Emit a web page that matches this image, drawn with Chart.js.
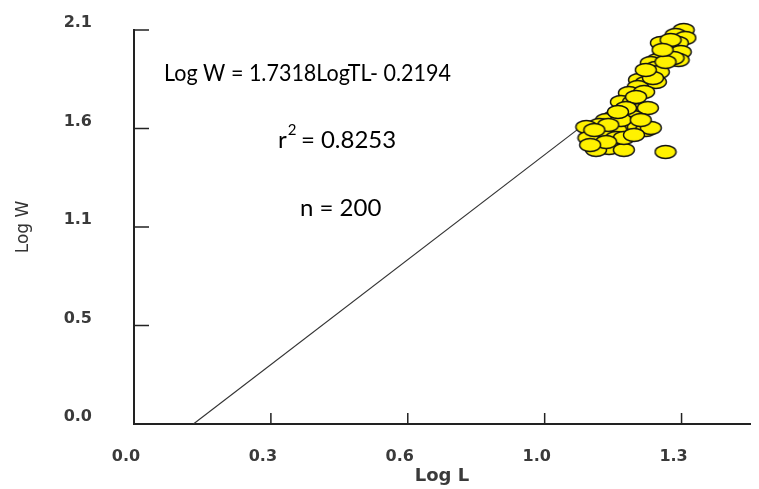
<!DOCTYPE html>
<html>
<head>
<meta charset="utf-8">
<script src="https://cdn.jsdelivr.net/npm/chart.js@4.4.1/dist/chart.umd.min.js"></script>
<style>
    html, body { margin: 0; padding: 0; background: #fff; }
    #wrap { width: 759px; height: 489px; }
</style>
</head>
<body>
<div id="wrap"><canvas id="lwChart" width="759" height="489"></canvas></div>
<script>
// log length / log weight pairs
var logL = [1.305, 1.286, 1.309, 1.291, 1.267, 1.251, 1.298, 1.293, 1.258, 1.243,
            1.227, 1.239, 1.222, 1.246, 1.199, 1.215, 1.239, 1.196, 1.175, 1.156,
            1.185, 1.199, 1.220, 1.173, 1.185, 1.140, 1.121, 1.105, 1.074, 1.140,
            1.173, 1.196, 1.215, 1.227, 1.145, 1.114, 1.090, 1.114, 1.145, 1.102,
            1.128, 1.163, 1.262, 1.079, 1.097, 1.274, 1.281, 1.262, 1.232, 1.211,
            1.192, 1.168, 1.156, 1.126, 1.093, 1.203, 1.163, 1.121, 1.083, 1.187,
            1.255, 1.215, 1.149];
var logW = [2.100, 2.074, 2.058, 2.031, 2.020, 2.031, 1.983, 1.940, 1.967, 1.940,
            1.924, 1.898, 1.871, 1.876, 1.834, 1.818, 1.823, 1.796, 1.764, 1.716,
            1.716, 1.674, 1.684, 1.647, 1.636, 1.636, 1.620, 1.594, 1.583, 1.578,
            1.604, 1.583, 1.567, 1.578, 1.567, 1.557, 1.530, 1.541, 1.525, 1.498,
            1.471, 1.461, 1.450, 1.525, 1.461, 2.047, 1.951, 1.930, 1.844, 1.770,
            1.743, 1.684, 1.620, 1.594, 1.567, 1.620, 1.525, 1.503, 1.487, 1.541,
            1.994, 1.887, 1.663];

// end points of the fitted line
var fitL = [0.141, 1.062];
var fitW = [0.0, 1.585];

var xTicks = [0, 0.325, 0.65, 0.975, 1.3];
var xTickLabels = ['0.0', '0.3', '0.6', '1.0', '1.3'];
var yTicks = [0, 0.525, 1.05, 1.575, 2.1];
var yTickLabels = ['0.0', '0.5', '1.1', '1.6', '2.1'];

var eqText = 'Log W = 1.7318LogTL- 0.2194';
var r2Value = '0.8253';
var nText = 'n = 200';

function makeDot() {
    var c = document.createElement('canvas');
    c.width = 24;
    c.height = 16;
    var g = c.getContext('2d');
    g.beginPath();
    g.ellipse(12, 8, 10.5, 6.5, 0, 0, Math.PI * 2);
    g.fillStyle = '#fff200';
    g.fill();
    g.lineWidth = 1.4;
    g.strokeStyle = '#111';
    g.stroke();
    return c;
}

// tick marks pointing into the plot
var innerTicks = {
    id: 'innerTicks',
    afterDraw: function (chart) {
        var ctx = chart.ctx, xs = chart.scales.x, ys = chart.scales.y;
        ctx.save();
        ctx.strokeStyle = '#222';
        ctx.lineWidth = 1.5;
        ctx.beginPath();
        xTicks.slice(1).forEach(v => {
            var px = xs.getPixelForValue(v);
            ctx.moveTo(px, ys.bottom);
            ctx.lineTo(px, ys.bottom - 11);
        });
        yTicks.slice(1).forEach(v => {
            var py = ys.getPixelForValue(v);
            ctx.moveTo(xs.left, py);
            ctx.lineTo(xs.left + 15, py);
        });
        ctx.stroke();
        ctx.restore();
    }
};

var fitNotes = {
    id: 'fitNotes',
    afterDraw: function (chart) {
        var ctx = chart.ctx;
        ctx.save();
        ctx.fillStyle = '#000';
        ctx.textBaseline = 'alphabetic';
        // equation line is a touch narrower than the other two in the original
        ctx.font = '23px Lato';
        var eqW = ctx.measureText(eqText).width;
        ctx.save();
        ctx.translate(164, 81);
        ctx.scale(Math.min(1, 287 / eqW), 1);
        ctx.fillText(eqText, 0, 0);
        ctx.restore();

        ctx.font = '24px Lato';
        ctx.fillText('r', 278, 148);
        var rw = ctx.measureText('r').width;
        ctx.font = '15px Lato';
        ctx.fillText('2', 278 + rw + 1, 135);
        ctx.font = '24px Lato';
        ctx.fillText(' = ' + r2Value, 278 + rw + 8, 148);
        ctx.fillText(nText, 300, 216);
        ctx.restore();
    }
};

var tickFont = { family: 'DejaVu Sans', size: 16, weight: 'bold' };

var chart = new Chart(document.getElementById('lwChart'), {
    type: 'scatter',
    data: {
        datasets: [
            {
                label: 'Observed',
                data: logL.map((x, i) => ({ x: x, y: logW[i] })),
                pointStyle: makeDot(),
                pointRadius: 8,
                clip: false,
                order: 1
            },
            {
                label: 'Fit',
                data: fitL.map((x, i) => ({ x: x, y: fitW[i] })),
                showLine: true,
                borderColor: '#333',
                borderWidth: 1.2,
                pointRadius: 0,
                fill: false,
                order: 2
            }
        ]
    },
    options: {
        responsive: false,
        animation: false,
        events: [],
        layout: { padding: { top: 30, right: 4, left: 0, bottom: 0 } },
        plugins: {
            legend: { display: false },
            tooltip: { enabled: false }
        },
        scales: {
            x: {
                type: 'linear',
                position: 'bottom',
                min: 0,
                max: 1.4625,
                grid: { display: false },
                border: { display: true, color: '#222', width: 2 },
                afterBuildTicks: function (s) { s.ticks = xTicks.map(v => ({ value: v })); },
                afterFit: function (s) {
                    s.height = 65;
                    s.paddingLeft = 0;
                    s.paddingRight = 0;
                },
                ticks: {
                    autoSkip: false,
                    maxRotation: 0,
                    padding: 15,
                    labelOffset: -8,
                    color: '#3a3a3a',
                    font: tickFont,
                    callback: function (v, i) { return xTickLabels[i]; }
                },
                title: {
                    display: true,
                    text: 'Log L',
                    color: '#3a3a3a',
                    font: { family: 'DejaVu Sans', size: 18, weight: 'bold' },
                    padding: { top: 0, bottom: 2 }
                }
            },
            y: {
                type: 'linear',
                min: 0,
                max: 2.1,
                grid: { display: false },
                border: { display: true, color: '#222', width: 2 },
                afterBuildTicks: function (s) { s.ticks = yTicks.map(v => ({ value: v })); },
                afterFit: function (s) {
                    s.width = 134;
                    s.paddingTop = 0;
                    s.paddingBottom = 0;
                },
                ticks: {
                    autoSkip: false,
                    padding: 34,
                    labelOffset: -7,
                    color: '#3a3a3a',
                    font: tickFont,
                    callback: function (v, i) { return yTickLabels[i]; }
                },
                title: {
                    display: true,
                    text: 'Log W',
                    color: '#333',
                    font: { family: 'DejaVu Sans', size: 17 },
                    padding: { top: 13, bottom: 0 }
                }
            }
        }
    },
    plugins: [innerTicks, fitNotes]
});
</script>
</body>
</html>
